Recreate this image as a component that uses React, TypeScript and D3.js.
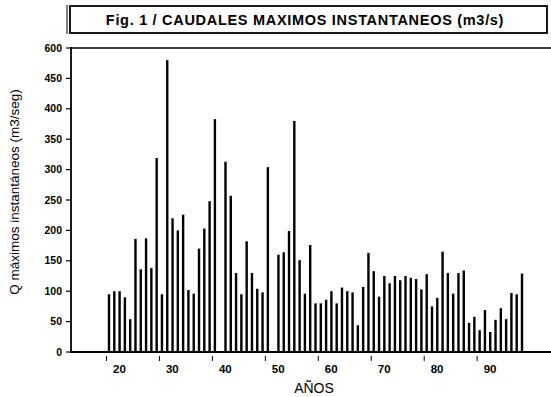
import React from "react";
import * as d3 from "d3";

const YEARS = [
  1920, 1921, 1922, 1923, 1924, 1925, 1926, 1927, 1928, 1929,
  1930, 1931, 1932, 1933, 1934, 1935, 1936, 1937, 1938, 1939,
  1940, 1942, 1943, 1944, 1945, 1946, 1947, 1948, 1949, 1950,
  1952, 1953, 1954, 1955, 1956, 1957, 1958, 1959, 1960, 1961,
  1962, 1963, 1964, 1965, 1966, 1967, 1968, 1969, 1970, 1971,
  1972, 1973, 1974, 1975, 1976, 1977, 1978, 1979, 1980, 1981,
  1982, 1983, 1984, 1985, 1986, 1987, 1988, 1989, 1990, 1991,
  1992, 1993, 1994, 1995, 1996, 1997, 1998,
];

const CAUDALES = [
  95, 100, 100, 90, 54, 186, 136, 187, 138, 319,
  95, 480, 220, 200, 226, 102, 96, 170, 203, 248,
  383, 313, 257, 130, 95, 182, 130, 104, 98, 304,
  160, 164, 199, 380, 151, 96, 176, 80, 80, 86,
  100, 80, 106, 100, 98, 44, 107, 163, 133, 91,
  125, 113, 125, 118, 125, 122, 120, 103, 128, 75,
  89, 165, 130, 96, 130, 134, 48, 58, 36, 69,
  33, 53, 72, 54, 97, 95, 129,
];

const Y_TICKS = [0, 50, 100, 150, 200, 250, 300, 350, 400, 450, 500];
const Y_TICK_LABELS = ["0", "50", "100", "150", "200", "250", "300", "350", "400", "450", "600"];
const X_TICKS = [1920, 1930, 1940, 1950, 1960, 1970, 1980, 1990];
const X_TICK_LABELS = ["20", "30", "40", "50", "60", "70", "80", "90"];

const TITLE = "Fig. 1 / CAUDALES MAXIMOS INSTANTANEOS (m3/s)";
const Y_LABEL = "Q máximos instantáneos (m3/seg)";
const X_LABEL = "AÑOS";

const W = 551;
const H = 397;
const FONT = "'Liberation Sans', Arial, Helvetica, sans-serif";

export default function App() {
  const x = d3.scaleLinear().domain([1920, 1998]).range([109, 522]);
  const y = d3.scaleLinear().domain([0, 500]).range([352, 48]);
  const axisLeft = 71;
  const axisRight = W;

  return (
    <svg
      width={W}
      height={H}
      viewBox={`0 0 ${W} ${H}`}
      style={{ position: "absolute", left: 0, top: 0, background: "#fff" }}
    >
      <rect x={0} y={0} width={W} height={H} fill="#fff" />
      {/* title box */}
      <rect x={70} y={6} width={477} height={27} fill="#fff" stroke="#000" strokeWidth={1.8} />
      <line x1={67} y1={5} x2={67} y2={34} stroke="#000" strokeWidth={1} />
      <text
        x={305}
        y={25}
        textAnchor="middle"
        fontFamily={FONT}
        fontWeight="bold"
        fontSize={14.5}
        letterSpacing={0.7}
        fill="#000"
      >
        {TITLE}
      </text>

      {/* frame lines */}
      <line x1={axisLeft} y1={y(500)} x2={axisRight} y2={y(500)} stroke="#000" strokeWidth={1.6} />
      <line x1={axisLeft} y1={y(500) - 1} x2={axisLeft} y2={y(0) + 1} stroke="#000" strokeWidth={1.8} />

      {/* bars */}
      {CAUDALES.map((v, i) => (
        <rect
          key={i}
          x={x(YEARS[i]) - 1.2}
          y={y(v)}
          width={2.4}
          height={y(0) - y(v)}
          fill="#000"
        />
      ))}

      {/* x axis line */}
      <line x1={axisLeft} y1={y(0)} x2={axisRight} y2={y(0)} stroke="#000" strokeWidth={2} />

      {/* y ticks */}
      {Y_TICKS.map((t, i) => (
        <g key={t}>
          <line x1={axisLeft - 5} y1={y(t)} x2={axisLeft} y2={y(t)} stroke="#000" strokeWidth={1.2} />
          <text
            x={62}
            y={y(t) + 3.5}
            textAnchor="end"
            fontFamily={FONT}
            fontWeight="bold"
            fontSize={10.5}
            fill="#000"
          >
            {Y_TICK_LABELS[i]}
          </text>
        </g>
      ))}

      {/* x ticks */}
      {X_TICKS.map((t, i) => (
        <g key={t}>
          <line
            x1={x(t) - 2.5}
            y1={356}
            x2={x(t) - 2.5}
            y2={361}
            stroke="#000"
            strokeWidth={1}
          />
          <text
            x={x(t) + 4}
            y={373}
            fontFamily={FONT}
            fontWeight="bold"
            fontSize={11.5}
            fill="#000"
          >
            {X_TICK_LABELS[i]}
          </text>
        </g>
      ))}

      {/* axis labels */}
      <text
        x={314}
        y={393}
        textAnchor="middle"
        fontFamily={FONT}
        fontSize={14}
        fill="#000"
      >
        {X_LABEL}
      </text>
      <text
        transform="translate(19,192) rotate(-90)"
        textAnchor="middle"
        fontFamily={FONT}
        fontSize={13.5}
        fill="#000"
      >
        {Y_LABEL}
      </text>
    </svg>
  );
}
